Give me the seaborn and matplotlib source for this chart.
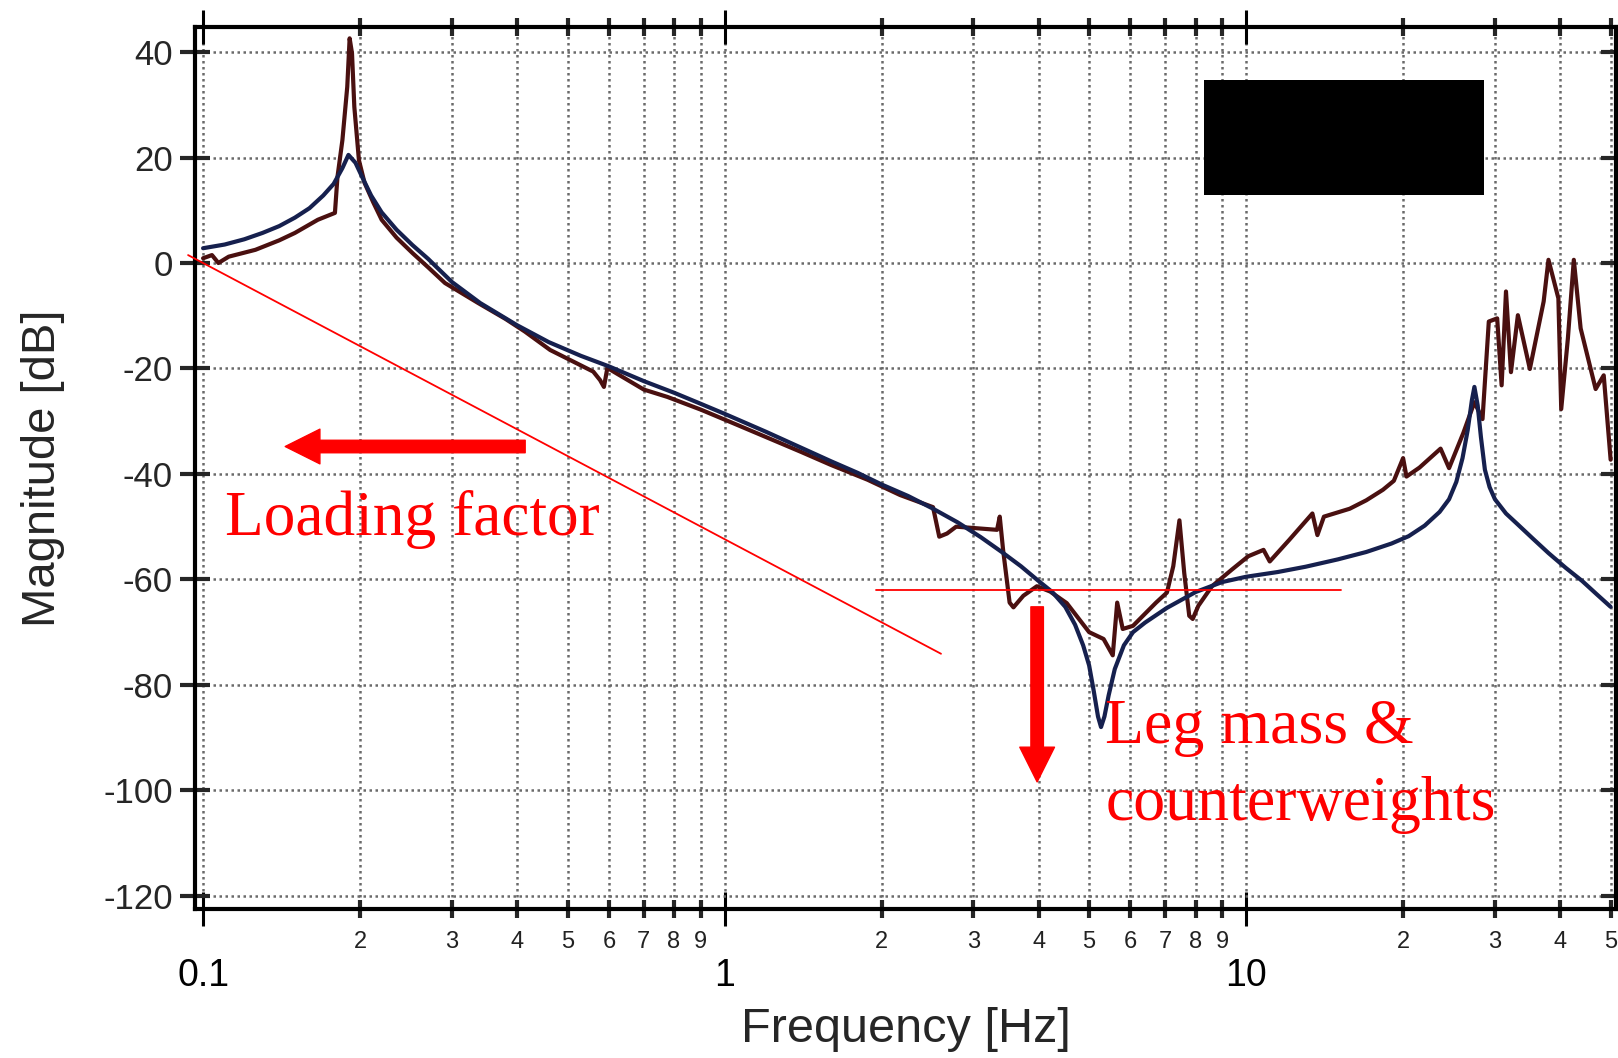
import numpy as np
import pandas as pd
import matplotlib
matplotlib.use("Agg")
import matplotlib.pyplot as plt
import matplotlib.font_manager as fm
from matplotlib.ticker import FixedLocator, FixedFormatter
from matplotlib.patches import Rectangle, FancyArrowPatch
import seaborn as sns

# ---- measured transfer function (Hz, dB) ----
freq_meas = [0.100, 0.104, 0.107, 0.112, 0.126, 0.140, 0.150, 0.166, 0.179, 0.181,
             0.185, 0.189, 0.191, 0.193, 0.195, 0.199, 0.204, 0.212, 0.220, 0.235,
             0.252, 0.270, 0.291, 0.337, 0.380, 0.414, 0.463, 0.520, 0.560, 0.577,
             0.587, 0.596, 0.610, 0.700, 0.777, 0.900, 1.04, 1.20, 1.40, 1.60,
             1.88, 2.17, 2.51, 2.58, 2.67, 2.78, 3.33, 3.37, 3.42, 3.52,
             3.58, 3.74, 3.97, 4.21, 4.53, 5.00, 5.33, 5.55, 5.66, 5.80,
             6.07, 6.72, 7.05, 7.25, 7.45, 7.61, 7.78, 7.90, 8.10, 8.60,
             9.40, 10.1, 10.8, 11.1, 12.1, 13.4, 13.7, 14.1, 15.8, 17.0,
             18.3, 19.2, 20.0, 20.3, 21.5, 23.6, 24.5, 26.1, 27.4, 28.4,
             29.2, 30.3, 30.9, 31.5, 32.2, 33.2, 35.0, 37.2, 38.0, 39.7,
             40.2, 41.4, 42.5, 43.8, 46.8, 48.5, 50.0]
mag_meas = [0.9, 1.5, 0.0, 1.2, 2.5, 4.3, 5.7, 8.2, 9.5, 16.3,
            23.3, 33.4, 42.6, 39.8, 29.6, 19.5, 15.2, 11.5, 8.2, 4.8,
            1.9, -0.8, -3.8, -7.6, -10.6, -13.0, -16.5, -19.0, -20.6, -22.2,
            -23.5, -19.9, -20.5, -24.0, -25.4, -27.8, -30.4, -33.0, -35.8, -38.3,
            -41.1, -44.0, -46.3, -51.9, -51.3, -50.0, -50.6, -48.1, -54.4, -64.4,
            -65.3, -63.1, -61.3, -62.3, -64.5, -70.0, -71.3, -74.4, -64.4, -69.4,
            -68.8, -64.4, -62.5, -57.5, -48.8, -58.8, -66.9, -67.5, -65.0, -61.3,
            -58.1, -55.6, -54.4, -56.6, -52.5, -47.5, -51.6, -48.1, -46.6, -45.0,
            -43.0, -41.3, -37.0, -40.5, -38.8, -35.2, -38.9, -32.2, -26.4, -29.6,
            -11.1, -10.5, -23.2, -5.4, -20.7, -9.9, -20.1, -7.3, 0.6, -6.7,
            -27.7, -14.3, 0.6, -12.4, -23.9, -21.3, -37.3]

# ---- model transfer function (Hz, dB) ----
freq_model = [0.100, 0.110, 0.120, 0.130, 0.140, 0.150, 0.160, 0.170, 0.178, 0.185,
              0.190, 0.196, 0.203, 0.210, 0.220, 0.235, 0.252, 0.270, 0.300, 0.340,
              0.400, 0.460, 0.530, 0.600, 0.700, 0.800, 0.900, 1.00, 1.20, 1.40,
              1.60, 1.80, 2.00, 2.25, 2.50, 2.80, 3.10, 3.40, 3.70, 4.00,
              4.25, 4.50, 4.70, 4.87, 5.00, 5.10, 5.20, 5.27, 5.35, 5.45,
              5.60, 5.83, 6.07, 6.40, 7.05, 8.00, 9.00, 10.0, 11.5, 13.0,
              15.0, 17.0, 19.0, 20.5, 22.0, 23.5, 24.5, 25.3, 26.0, 26.6,
              27.1, 27.4, 27.8, 28.2, 28.7, 29.3, 30.0, 31.5, 33.2, 35.5,
              38.0, 41.0, 44.1, 47.0, 50.0]
mag_model = [2.8, 3.5, 4.5, 5.7, 7.0, 8.6, 10.4, 12.8, 15.0, 18.0,
             20.5, 19.0, 15.8, 12.8, 9.6, 6.3, 3.4, 0.8, -3.6, -7.6,
             -11.8, -15.0, -17.6, -19.6, -22.4, -24.6, -26.7, -28.6, -32.0, -35.0,
             -37.6, -39.8, -42.0, -44.2, -46.5, -49.2, -52.0, -54.8, -57.5, -60.3,
             -62.4, -65.2, -68.6, -72.5, -76.3, -81.0, -86.0, -88.0, -86.0, -82.0,
             -77.0, -72.5, -70.0, -68.2, -65.4, -62.4, -60.5, -59.5, -58.6, -57.6,
             -56.2, -54.8, -53.2, -51.8, -49.8, -47.2, -44.8, -41.5, -37.0, -31.7,
             -26.0, -23.5, -27.0, -33.0, -39.2, -42.5, -44.8, -47.5, -49.6, -52.3,
             -55.0, -57.8, -60.3, -62.8, -65.2]

# ---- axis ticks ----
x_major = [0.1, 1, 10]
x_major_labels = ["0.1", "1", "10"]
x_minor = [0.2, 0.3, 0.4, 0.5, 0.6, 0.7, 0.8, 0.9,
           2, 3, 4, 5, 6, 7, 8, 9,
           20, 30, 40, 50]
x_minor_labels = ["2", "3", "4", "5", "6", "7", "8", "9",
                  "2", "3", "4", "5", "6", "7", "8", "9",
                  "2", "3", "4", "5"]
y_ticks = [-120, -100, -80, -60, -40, -20, 0, 20, 40]

# ---- annotation geometry (Hz, dB) ----
loading_line_f = [0.0936, 2.60]
loading_line_db = [1.5, -74.1]
leg_line_f = [1.952, 15.2]
leg_line_db = [-62.1, -62.1]
loading_arrow = ((0.4146, -34.8), (0.1437, -34.8))   # tail, head
leg_arrow = ((3.975, -65.2), (3.975, -98.4))
mask_box_f = (8.31, 28.6)
mask_box_db = (12.9, 34.7)

sns.set_style("white")


def pick_font(cands):
    for c in cands:
        try:
            fm.findfont(fm.FontProperties(family=c), fallback_to_default=False)
            return c
        except Exception:
            pass
    return "DejaVu Sans"


narrow = pick_font(["Liberation Sans Narrow", "DejaVu Sans Condensed", "Liberation Sans"])
regular = pick_font(["Liberation Sans", "DejaVu Sans"])
serif = pick_font(["Liberation Serif", "DejaVu Serif"])
plt.rcParams["font.family"] = [narrow, "DejaVu Sans"]
plt.rcParams["axes.unicode_minus"] = False

W, H = 1618, 1058
fig = plt.figure(figsize=(W / 100, H / 100), dpi=100)
left, right, top, bottom = 195, 1616, 27, 909
ax = fig.add_axes([left / W, 1 - bottom / H, (right - left) / W, (bottom - top) / H])

meas = pd.DataFrame({"Frequency": freq_meas, "Magnitude": mag_meas})
model = pd.DataFrame({"Frequency": freq_model, "Magnitude": mag_model})

sns.lineplot(data=meas, x="Frequency", y="Magnitude", ax=ax, color="#4a1010",
             linewidth=3.0, sort=False, estimator=None, zorder=4)
sns.lineplot(data=model, x="Frequency", y="Magnitude", ax=ax, color="#16204e",
             linewidth=3.0, sort=False, estimator=None, zorder=5)

ax.set_xscale("log")
ax.set_xlim(0.0965, 51.2)
ax.set_ylim(-122.5, 44.75)

ax.xaxis.set_major_locator(FixedLocator(x_major))
ax.xaxis.set_major_formatter(FixedFormatter(x_major_labels))
ax.xaxis.set_minor_locator(FixedLocator(x_minor))
ax.xaxis.set_minor_formatter(FixedFormatter(x_minor_labels))
ax.yaxis.set_major_locator(FixedLocator(y_ticks))
ax.yaxis.set_major_formatter(FixedFormatter([str(v) for v in y_ticks]))

ax.tick_params(axis="x", which="major", direction="inout", length=25, width=2.2,
               pad=23, labelsize=27, top=True, bottom=True, colors="black")
ax.tick_params(axis="x", which="minor", direction="inout", length=13, width=3.0,
               pad=9.5, labelsize=17, top=True, bottom=True, labelcolor="#222222")
ax.tick_params(axis="y", which="major", direction="inout", length=21, width=3.0,
               pad=5.5, labelsize=25, left=True, right=True)

grid_kw = dict(color="#6a6a6a", linewidth=1.8, linestyle=(0, (1.0, 1.4)))
ax.grid(True, which="both", axis="x", **grid_kw)
ax.grid(True, which="major", axis="y", **grid_kw)
ax.set_axisbelow(True)

for sp in ax.spines.values():
    sp.set_linewidth(3.0)
    sp.set_color("black")
    sp.set_visible(True)

ax.set_xlabel("Frequency [Hz]", fontsize=35)
ax.xaxis.set_label_coords(0.5, (bottom - 1030) / (bottom - top))
ax.xaxis.label.set_va("center")
ax.set_ylabel("Magnitude [dB]", fontsize=34, family=[regular])
ax.yaxis.set_label_coords((43 - left) / (right - left), 0.5)
ax.yaxis.label.set_va("center")

# red guide lines
ax.plot(loading_line_f, loading_line_db, color="red", linewidth=1.3, zorder=6, clip_on=False)
ax.plot(leg_line_f, leg_line_db, color="red", linewidth=1.3, zorder=6)

# red arrows
for tail, head in (loading_arrow, leg_arrow):
    arr = FancyArrowPatch(tail, head,
                          arrowstyle="simple,head_length=25,head_width=25,tail_width=9",
                          mutation_scale=1, color="red", shrinkA=0, shrinkB=0, zorder=7)
    ax.add_patch(arr)

# annotation text
ax.text(0.1102, -51.6, "Loading factor", color="red", fontsize=45.5,
        family=[serif], ha="left", va="baseline", zorder=8)
ax.text(5.37, -91.0, "Leg mass &", color="red", fontsize=46,
        family=[serif], ha="left", va="baseline", zorder=8)
ax.text(5.37, -105.6, "counterweights", color="red", fontsize=46,
        family=[serif], ha="left", va="baseline", zorder=8)

# black box over the legend area
ax.add_patch(Rectangle((mask_box_f[0], mask_box_db[0]),
                       mask_box_f[1] - mask_box_f[0], mask_box_db[1] - mask_box_db[0],
                       facecolor="black", edgecolor="none", zorder=9))

fig.savefig("out.png", dpi=100, facecolor="white")
